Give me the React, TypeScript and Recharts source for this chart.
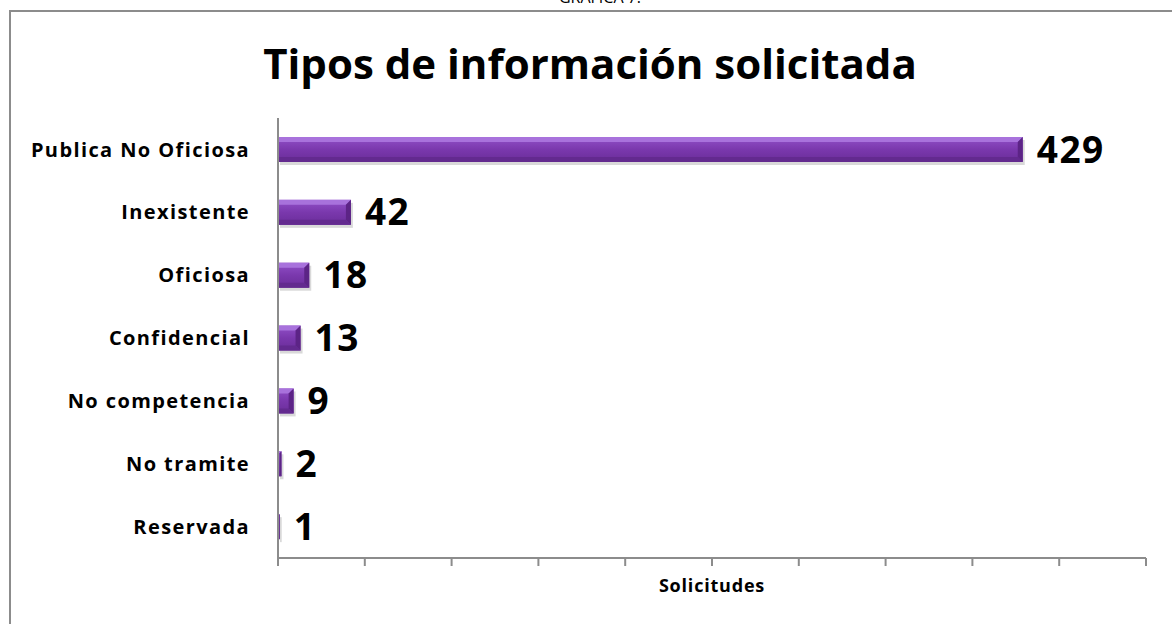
import { BarChart, Bar, XAxis, YAxis, LabelList } from 'recharts';

const categories = [
  'Publica No Oficiosa',
  'Inexistente',
  'Oficiosa',
  'Confidencial',
  'No competencia',
  'No tramite',
  'Reservada',
];
const solicitudes = [429, 42, 18, 13, 9, 2, 1];
const xTicks = [0, 50, 100, 150, 200, 250, 300, 350, 400, 450, 500];

const data = categories.map((name, i) => ({ name, value: solicitudes[i] }));

const FONT = '"Open Sans", sans-serif';

// bevelled purple bar, like the Office 3D style
function BevelBar(props: any) {
  const { x, y, width, height } = props;
  if (!width || width <= 0) return null;
  const b = Math.min(5, width / 2);
  return (
    <g>
      <rect x={x + 2} y={y + 3} width={width} height={height} fill="#000" opacity={0.15} />
      <rect x={x} y={y} width={width} height={height} fill="url(#barFill)" />
      <polygon
        points={`${x},${y} ${x + width},${y} ${x + width - b},${y + b} ${x},${y + b}`}
        fill="#a872dc"
      />
      <polygon
        points={`${x + width},${y} ${x + width},${y + height} ${x + width - b},${y + height - b} ${x + width - b},${y + b}`}
        fill="#5c2486"
      />
      <polygon
        points={`${x},${y + height} ${x + width},${y + height} ${x + width - b},${y + height - b} ${x},${y + height - b}`}
        fill="#632a8f"
      />
    </g>
  );
}

export default function App() {
  return (
    <div
      style={{
        position: 'absolute',
        left: 0,
        top: 0,
        width: 1172,
        height: 624,
        overflow: 'hidden',
        background: '#fff',
      }}
    >
      <div
        style={{
          position: 'absolute',
          left: 9,
          top: 10,
          width: 1200,
          height: 700,
          borderLeft: '2px solid #8c8c8c',
          borderTop: '2px solid #8c8c8c',
        }}
      />
      <div
        style={{
          position: 'absolute',
          left: 0,
          width: 1200,
          top: -14,
          textAlign: 'center',
          fontFamily: FONT,
          fontSize: 16,
          color: '#000',
        }}
      >
        GRÁFICA 7.
      </div>
      <div style={{ position: 'absolute', left: 0, top: 0 }}>
        <BarChart
          width={1172}
          height={624}
          data={data}
          layout="vertical"
          margin={{ top: 118, right: 26, bottom: 0, left: 0 }}
          barSize={25}
        >
          <defs>
            <linearGradient id="barFill" x1="0" y1="0" x2="0" y2="1">
              <stop offset="0%" stopColor="#9150c8" />
              <stop offset="50%" stopColor="#7a38ad" />
              <stop offset="100%" stopColor="#6a2d99" />
            </linearGradient>
          </defs>
          <text
            x={590}
            y={79}
            textAnchor="middle"
            fontFamily={FONT}
            fontWeight={700}
            fontSize={42}
            fill="#000"
          >
            Tipos de información solicitada
          </text>
          <XAxis
            type="number"
            domain={[0, 500]}
            ticks={xTicks}
            interval={0}
            tickFormatter={() => ''}
            tickSize={8}
            height={66}
            axisLine={{ stroke: '#8c8c8c', strokeWidth: 2 }}
            tickLine={{ stroke: '#8c8c8c', strokeWidth: 2 }}
            label={{
              value: 'Solicitudes',
              position: 'insideBottom',
              offset: 32,
              fontFamily: FONT,
              fontWeight: 700,
              fontSize: 18,
              letterSpacing: 0.8,
              fill: '#000',
            }}
          />
          <YAxis
            type="category"
            dataKey="name"
            width={278}
            tickSize={0}
            tickMargin={28}
            axisLine={{ stroke: '#8c8c8c', strokeWidth: 2 }}
            tick={{
              fontFamily: FONT,
              fontWeight: 700,
              fontSize: 20,
              letterSpacing: 1.4,
              fill: '#000',
            }}
          />
          <Bar dataKey="value" shape={BevelBar} isAnimationActive={false}>
            <LabelList
              dataKey="value"
              position="right"
              offset={14}
              fontFamily={FONT}
              fontWeight={700}
              fontSize={37}
              letterSpacing={1.5}
              fill="#000"
            />
          </Bar>
        </BarChart>
      </div>
    </div>
  );
}
